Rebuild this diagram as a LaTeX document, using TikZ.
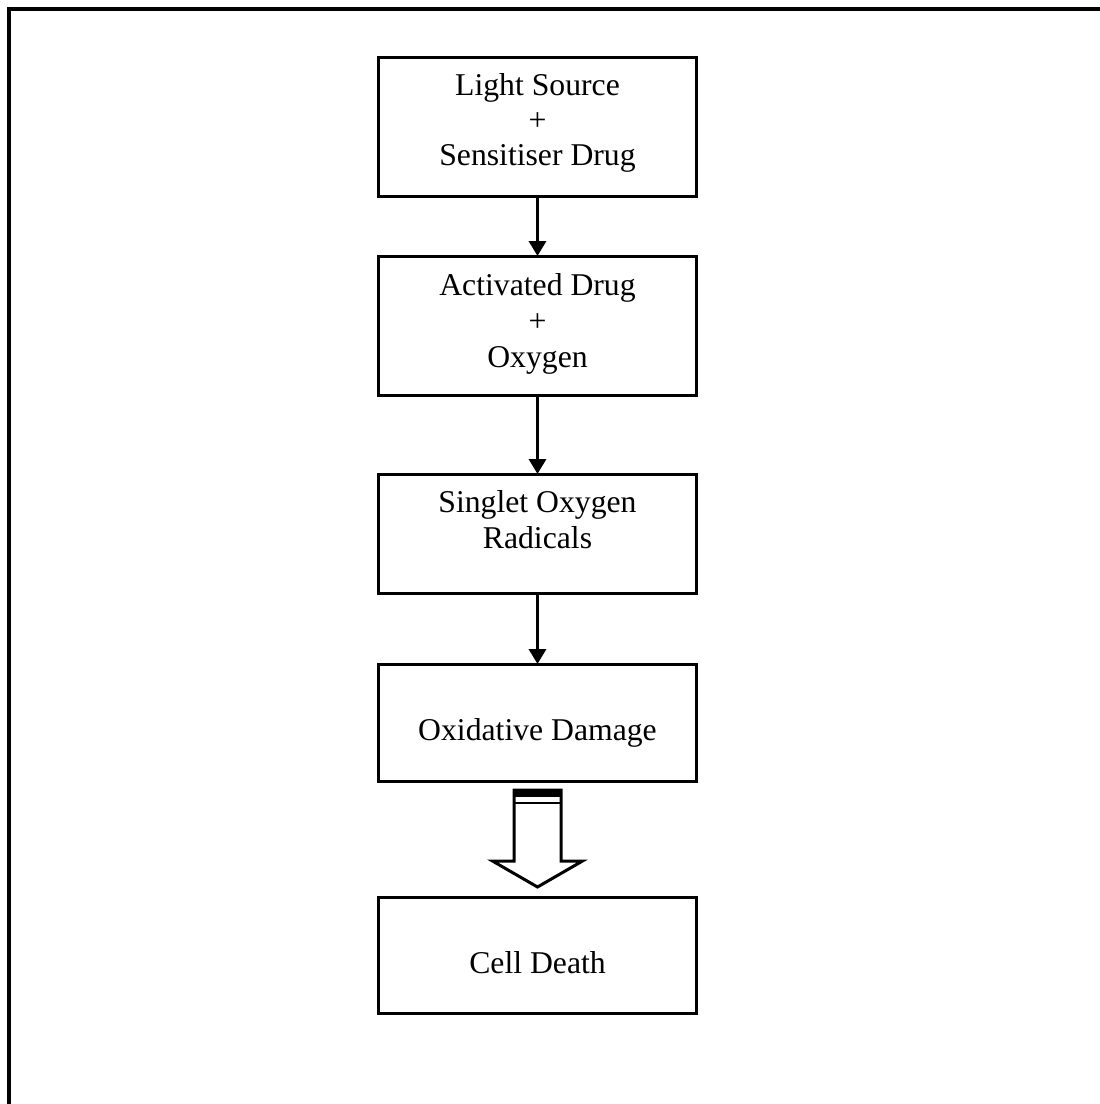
\documentclass[tikz,border=0pt]{standalone}
\usepackage{fontspec}
\setmainfont{Liberation Serif}
\usetikzlibrary{arrows.meta,calc}
\begin{document}
\begin{tikzpicture}[x=1pt,y=-1pt,
  stepbox/.style={draw,line width=3pt,rectangle,minimum width=318pt,inner sep=0pt},
  txt/.style={anchor=base,inner sep=0pt,font=\fontsize{31.7}{35}\selectfont},
  conn/.style={line width=3.2pt,-{Triangle[width=17pt,length=15pt]},shorten >=-1pt}]
\useasboundingbox (0,0) rectangle (1100,1104);
% outer frame (only top and left edges visible)
\draw[line width=3.5pt] (9,1104) -- (9,9) -- (1100,9);
% boxes
\node[stepbox,minimum height=139pt] (a) at (537.5,127) {};
\node[stepbox,minimum height=139pt] (b) at (537.5,326) {};
\node[stepbox,minimum height=119pt] (c) at (537.5,534) {};
\node[stepbox,minimum height=117pt] (d) at (537.5,723) {};
\node[stepbox,minimum height=116pt] (e) at (537.5,955.5) {};
% texts
\node[txt] (a1) at (537.5,95) {Light Source};
\node[txt] (a2) at (537.5,130) {+};
\node[txt] (a3) at (537.5,165) {Sensitiser Drug};
\node[txt] (b1) at (537.5,295) {Activated Drug};
\node[txt] (b2) at (537.5,331) {+};
\node[txt] (b3) at (537.5,367) {Oxygen};
\node[txt] (c1) at (537.5,512) {Singlet Oxygen};
\node[txt] (c2) at (537.5,548) {Radicals};
\node[txt] (d1) at (537.5,740) {Oxidative Damage};
\node[txt] (e1) at (537.5,973) {Cell Death};
% connectors
\draw[conn] (a.south) -- (b.north);
\draw[conn] (b.south) -- (c.north);
\draw[conn] (c.south) -- (d.north);
% block arrow from d to e
\coordinate (bt) at ($(d.south)+(0,7)$);
\coordinate (bp) at ($(e.north)+(0,-9)$);
\draw[line width=3pt,line join=miter]
  ($(bt)+(-23.5,0)$) -- ($(bt)+(23.5,0)$) -- ($(bt)+(23.5,71)$) -- ($(bt)+(45,71)$)
  -- (bp) -- ($(bt)+(-45,71)$) -- ($(bt)+(-23.5,71)$) -- cycle;
\fill ($(bt)+(-23.5,0)$) rectangle ($(bt)+(23.5,7)$);
\draw[line width=2.5pt] ($(bt)+(-23.5,13)$) -- ($(bt)+(23.5,13)$);
\end{tikzpicture}
\end{document}
